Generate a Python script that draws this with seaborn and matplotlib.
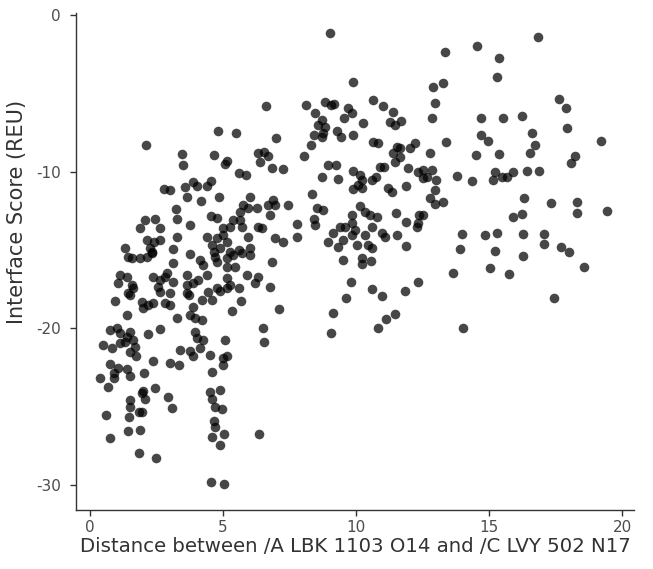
import numpy as np
import pandas as pd
import matplotlib
matplotlib.use("Agg")
import matplotlib.pyplot as plt
import seaborn as sns

# pontos, por regiao
# x = distancia, y = interface score (REU)
regiao_a = [(4.80,-7.40),(2.10,-8.30),(3.45,-8.85),(4.67,-8.93),(3.50,-9.55),(5.14,-9.30),(5.08,-9.50),
            (2.76,-11.12),(3.00,-11.17),(3.55,-11.00),(3.86,-10.64),(4.00,-10.90),(4.39,-10.91),(4.54,-10.61),
            (3.64,-11.63),(4.16,-11.90),(4.86,-11.63),(3.22,-12.40),(3.26,-13.00),(2.07,-13.10),(2.44,-13.00),
            (4.55,-12.80),(4.76,-12.97),(1.88,-13.57),(2.63,-13.57),(3.76,-13.40),(5.01,-13.60)]

regiao_b = [(3.28,-14.19),(2.13,-14.36),(2.41,-14.50),(2.63,-14.36),(1.32,-14.85),(2.26,-14.89),(2.32,-15.10),
            (3.13,-14.93),(4.39,-14.15),(4.76,-14.25),(5.01,-14.04),(5.14,-14.47),(4.57,-14.68),(4.64,-15.10),
            (4.89,-14.89),(1.44,-15.42),(1.57,-15.53),(1.88,-15.53),(2.13,-15.42),(2.32,-15.20),(3.76,-15.27),
            (4.14,-15.63),(4.26,-15.95),(4.70,-15.42),(4.76,-15.74),(5.14,-15.53),(5.14,-16.06),(3.13,-15.85),
            (1.13,-16.60),(1.38,-16.70),(1.06,-17.12),(1.57,-17.23),(1.63,-17.44),(2.38,-16.70),(2.63,-16.91),
            (2.57,-17.34),(2.63,-17.66),(2.88,-16.48),(3.13,-17.02),(3.00,-17.76),(2.82,-16.70),(3.64,-16.59),
            (3.64,-17.23),(3.88,-17.12),(4.07,-16.91),(4.39,-16.59),(3.64,-17.76),(3.70,-17.87),(4.45,-17.66),
            (4.76,-17.44),(4.89,-17.61),(5.14,-17.44),(5.14,-16.80),(1.44,-17.76),(1.50,-17.87),(0.94,-18.25),
            (1.94,-18.30),(2.00,-18.72),(2.19,-18.51),(2.38,-18.40),(2.82,-18.40),(3.00,-18.51),(3.88,-18.62),
            (4.20,-18.19),(4.57,-18.19),(1.38,-19.15),(3.26,-19.36),(3.76,-19.15),(3.95,-19.36),(4.20,-19.46),
            (0.75,-20.10),(1.00,-20.00),(1.13,-20.31),(1.50,-20.21),(1.38,-20.53),(1.63,-20.74),(2.19,-20.38),
            (2.63,-20.04),(3.95,-20.21),(4.00,-20.63),(4.26,-20.74),(5.08,-20.74),(0.50,-21.06),(0.82,-21.27),
            (1.13,-20.95),(1.32,-20.85),(1.50,-21.49),(1.69,-21.17),(3.38,-21.38),(3.76,-21.44),(4.14,-21.27)]

regiao_c = [(1.73,-21.80),(3.87,-21.80),(4.51,-21.70),(5.01,-21.90),(5.14,-21.80),(5.01,-22.34),(2.38,-22.06),
            (3.00,-22.19),(3.36,-22.34),(0.75,-22.27),(1.06,-22.55),(1.38,-22.61),(0.88,-22.87),(0.88,-23.19),
            (1.50,-23.04),(0.38,-23.15),(0.69,-23.76),(2.04,-22.87),(4.57,-22.76),(2.44,-23.78),(2.00,-23.98),
            (1.94,-24.14),(2.07,-24.53),(2.94,-24.36),(3.07,-25.10),(4.51,-24.04),(4.89,-23.93),(4.57,-24.53),
            (4.70,-25.00),(4.95,-25.16),(1.50,-24.57),(1.50,-25.00),(1.82,-25.32),(1.94,-25.32),(1.48,-25.64),
            (0.60,-25.53),(1.44,-26.53),(1.88,-26.49),(0.75,-27.01),(4.64,-25.95),(4.70,-26.31),(4.57,-26.95),
            (5.04,-26.74),(4.89,-27.44),(1.82,-27.97),(2.48,-28.29),(4.55,-29.84),(5.04,-29.97)]

regiao_d = [(9.90,-4.26),(6.62,-5.81),(8.12,-5.74),(8.83,-5.53),(9.06,-5.74),(9.18,-5.68),(8.46,-6.27),
            (9.71,-5.95),(9.84,-6.27),(9.56,-6.59),(10.27,-6.87),(10.65,-5.42),(8.71,-6.70),(8.58,-7.02),
            (8.83,-7.13),(8.77,-7.55),(8.71,-7.77),(8.40,-7.66),(8.30,-8.30),(9.27,-7.38),(9.44,-7.80),
            (9.90,-7.66),(10.65,-8.08),(5.49,-7.55),(6.98,-7.83),(8.05,-9.00),(6.33,-8.83),(6.52,-8.76),
            (6.68,-9.00),(6.39,-9.36),(5.58,-10.06),(5.85,-10.21),(6.85,-9.78),(7.27,-9.85),(8.96,-9.57),
            (9.25,-9.57),(8.73,-10.36),(9.33,-10.49),(9.90,-9.94),(10.15,-10.21),(10.21,-10.53),(10.09,-10.85),
            (9.90,-11.12),(10.21,-11.06),(10.59,-10.53),(8.33,-11.44),(6.02,-11.60),(5.76,-12.13),(5.95,-12.34),
            (6.27,-12.34),(5.64,-12.55),(6.70,-12.13),(6.89,-11.81),(6.95,-12.13),(7.43,-12.13),(6.77,-12.76),
            (8.52,-12.34),(8.77,-12.44),(10.15,-12.19),(10.34,-12.55),(9.84,-12.76),(10.53,-12.76),(5.39,-13.08),
            (5.64,-13.08),(5.70,-13.51),(5.26,-13.51),(6.33,-13.51),(6.45,-13.61),(7.77,-13.34),(8.40,-13.04),
            (8.46,-13.40),(9.40,-13.51),(9.59,-13.51),(9.84,-13.30),(10.59,-13.51),(9.02,-1.15)]

regiao_e = [(5.95,-14.15),(6.95,-14.25),(7.27,-14.47),(7.77,-14.15),(8.96,-14.47),(9.15,-13.93),(9.33,-14.79),
            (9.52,-14.36),(9.84,-14.04),(9.96,-13.72),(10.03,-14.68),(10.34,-14.04),(10.46,-14.68),(10.59,-14.89),
            (5.26,-15.10),(5.58,-15.00),(6.02,-14.89),(6.02,-15.32),(5.39,-15.32),(5.70,-15.20),(6.83,-15.79),
            (9.52,-15.63),(10.21,-15.53),(10.21,-15.91),(10.56,-15.70),(5.45,-16.06),(5.89,-16.59),(6.33,-16.70),
            (6.20,-17.12),(6.77,-17.34),(5.26,-17.23),(5.58,-17.40),(9.81,-17.02),(10.61,-17.49),(5.68,-18.25),
            (9.62,-18.08),(5.35,-18.87),(7.12,-18.76),(9.15,-19.00),(6.49,-19.95),(9.06,-20.31),(6.55,-20.89),
            (6.36,-26.76)]

regiao_f = [(14.56,-1.98),(13.33,-2.38),(15.38,-2.76),(15.29,-3.96),(12.88,-4.58),(13.28,-4.36),(12.98,-5.64),
            (11.00,-5.81),(11.40,-6.17),(11.28,-6.81),(11.47,-7.02),(11.68,-6.75),(12.85,-6.55),(14.69,-6.59),
            (15.51,-6.59),(14.69,-7.66),(14.94,-8.02),(10.84,-8.15),(11.53,-8.40),(11.65,-8.51),(11.40,-8.83),
            (12.03,-8.51),(12.22,-8.15),(11.65,-9.04),(13.38,-8.08),(12.78,-8.79),(14.51,-8.93),(15.39,-8.87)]

regiao_g = [(11.47,-9.36),(10.88,-9.68),(11.05,-9.68),(10.75,-10.32),(11.94,-9.78),(12.34,-10.00),(12.53,-9.89),
            (12.85,-9.89),(12.53,-10.42),(12.65,-10.32),(13.01,-10.53),(13.79,-10.25),(14.35,-10.57),(15.23,-10.00),
            (15.16,-10.53),(15.47,-10.32),(15.66,-10.32),(11.21,-11.06),(11.34,-11.32),(11.88,-10.91),(12.97,-11.17),
            (12.76,-11.66),(12.97,-12.08),(13.28,-11.95),(10.80,-12.87),(11.49,-12.66),(11.88,-13.19),(12.38,-12.76),
            (12.53,-12.76),(12.34,-13.30),(12.28,-13.51),(10.97,-13.93),(11.09,-14.15),(11.53,-14.04),(11.88,-14.74),
            (13.97,-13.98),(14.85,-14.04),(15.29,-13.93),(13.91,-14.95),(15.24,-15.06),(13.66,-16.44),(15.04,-16.13),
            (15.73,-16.55),(12.34,-17.06),(10.97,-17.91),(11.82,-17.61),(11.47,-19.10),(11.13,-19.42),(10.84,-20.00),
            (14.03,-19.95)]

regiao_h = [(16.83,-1.38),(17.63,-5.36),(17.89,-5.95),(16.23,-6.43),(16.63,-7.55),(16.73,-8.30),(16.54,-8.83),
            (17.94,-7.23),(19.21,-8.02),(18.23,-9.00),(18.07,-9.46),(15.89,-10.04),(16.42,-9.94),(16.88,-9.94),
            (16.33,-11.70),(17.32,-11.98),(18.30,-11.91),(18.30,-12.62),(19.42,-12.51),(15.88,-12.89),(16.23,-12.68),
            (16.29,-13.98),(17.08,-13.98),(17.08,-14.62),(17.71,-14.83),(18.02,-15.10),(16.27,-15.38),(18.55,-16.06),
            (17.45,-18.04)]

x_ticks = [0, 5, 10, 15, 20]
y_ticks = [-30, -20, -10, 0]
y_tick_labels = ['-30', '-20', '-10', '0']

pontos = regiao_a + regiao_b + regiao_c + regiao_d + regiao_e + regiao_f + regiao_g + regiao_h
df = pd.DataFrame(pontos, columns=['distancia', 'score'])

sns.set_style("ticks")
plt.rcParams['font.family'] = ['DejaVu Sans']

fig = plt.figure(figsize=(6.53, 5.69), dpi=100)
ax = fig.add_axes([0.1164, 0.1037, 0.8546, 0.8735])

sns.scatterplot(data=df, x='distancia', y='score', ax=ax, color='black', alpha=0.72,
                s=48, linewidth=0)

ax.set_xlim(-0.53, 20.45)
ax.set_ylim(-31.6, 0.13)
ax.set_xticks(x_ticks)
ax.set_yticks(y_ticks)
ax.set_yticklabels(y_tick_labels)

for lado in ['top', 'right']:
    ax.spines[lado].set_visible(False)
for lado in ['left', 'bottom']:
    ax.spines[lado].set_color('#333333')
    ax.spines[lado].set_linewidth(1.0)
ax.tick_params(axis='both', length=4, width=1.0, color='#333333', labelsize=11, labelcolor='#4D4D4D')
ax.tick_params(axis='x', pad=3)
ax.tick_params(axis='y', pad=7)

ax.set_xlabel('Distance between /A LBK 1103 O14 and /C LVY 502 N17', fontsize=14.2, color='#333333', labelpad=2)
ax.set_ylabel('Interface Score (REU)', fontsize=15, color='#333333')
ax.yaxis.set_label_coords(-0.088, 0.60)

fig.savefig('out.png', dpi=100)
